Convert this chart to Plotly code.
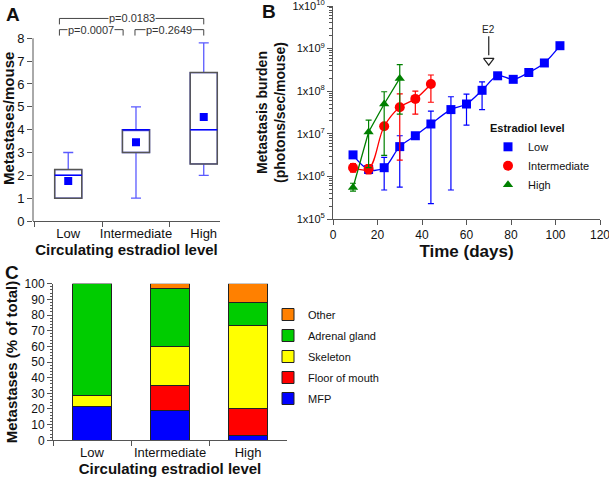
import math
import plotly.graph_objects as go

W, H = 609, 478
FONT = "Arial, Liberation Sans, sans-serif"
AXIS_GREY = "#555555"

# ---- panel A: metastases per mouse (box summary) ----
groups = ["Low", "Intermediate", "High"]
box_q1 = [1.0, 3.0, 2.5]
box_median = [2.0, 4.0, 4.0]
box_q3 = [2.25, 4.0, 6.5]
box_lower = [1.0, 1.0, 2.0]
box_upper = [3.0, 5.0, 7.8]
box_mean = [1.75, 3.45, 4.55]

# significance brackets (x in category units, y in metastases/mouse)
p_labels = ["p=0.0183", "p=0.0007", "p=0.2649"]
p_left = [-0.13, -0.13, 0.985]
p_right = [2.0, 0.81, 2.0]
p_level = [8.87, 8.38, 8.38]
p_drop = 0.26

# ---- panel B: bioluminescence over time ----
low_day = [9, 16, 23, 30, 37, 44, 53, 60, 67, 74, 81, 88, 95, 102]
low_val = [3.2e6, 1.45e6, 1.6e6, 5.0e6, 9.0e6, 1.7e7, 3.7e7, 5.0e7, 1.05e8, 2.3e8, 1.9e8, 2.75e8, 4.6e8, 1.17e9]
low_hi = [3.8e6, 1.7e6, 2.8e6, 9.0e6, 9.0e6, 3.4e7, 7.4e7, 8.5e7, 1.65e8, 2.3e8, 1.9e8, 2.75e8, 4.6e8, 1.17e9]
low_lo = [2.8e6, 1.25e6, 4.8e5, 5.6e5, 9.0e6, 2.3e5, 4.8e5, 1.6e7, 3.7e7, 2.3e8, 1.9e8, 2.75e8, 4.6e8, 1.17e9]

inter_day = [9, 16, 23, 30, 37, 44]
inter_val = [1.6e6, 1.5e6, 1.5e7, 4.2e7, 6.6e7, 1.48e8]
inter_hi = [2.0e6, 1.9e6, 1.5e7, 8.7e7, 1.0e8, 2.4e8]
inter_lo = [1.25e6, 1.15e6, 1.5e7, 2.4e6, 2.9e7, 5.5e7]

high_day = [9, 16, 23, 30]
high_val = [5.5e5, 1.1e7, 5.0e7, 2.0e8]
high_hi = [6.9e5, 2.1e7, 9.7e7, 4.2e8]
high_lo = [4.5e5, 1.6e6, 3.1e6, 2.9e7]

e2_day = 70
e2_level = 5.2e8

log_ticks = [1e5, 1e6, 1e7, 1e8, 1e9, 1e10]
log_ticktext = ["1x10<sup>5</sup>", "1x10<sup>6</sup>", "1x10<sup>7</sup>",
                "1x10<sup>8</sup>", "1x10<sup>9</sup>", "1x10<sup>10</sup>"]

# ---- panel C: site distribution (% of total) ----
sites = ["MFP", "Floor of mouth", "Skeleton", "Adrenal gland", "Other"]
site_colors = ["#0000ff", "#ff0000", "#ffff00", "#00cc00", "#ff8000"]
mfp = [21.4, 19.3, 2.9]
floor_of_mouth = [0.0, 16.0, 17.4]
skeleton = [7.1, 24.4, 53.1]
adrenal = [71.5, 37.3, 14.7]
other = [0.0, 3.0, 11.9]


def px_x(a, b):
    return [a / W, b / W]


def px_y(top, bottom):
    return [1 - bottom / H, 1 - top / H]


def errs(val, hi, lo):
    return [h - v for v, h in zip(val, hi)], [v - l for v, l in zip(val, lo)]


fig = go.Figure()

# panel A boxes (blue whiskers/median), grey box outline added as shapes
fig.add_trace(go.Box(
    x=groups, q1=box_q1, median=box_median, q3=box_q3,
    lowerfence=box_lower, upperfence=box_upper,
    width=0.4, whiskerwidth=0.37, fillcolor="white",
    line=dict(color="#5a5aff", width=1.3), boxpoints=False,
    xaxis="x", yaxis="y", showlegend=False, hoverinfo="skip",
))
fig.add_trace(go.Scatter(
    x=groups, y=box_mean, mode="markers",
    marker=dict(symbol="square", size=8, color="#0000ff"),
    xaxis="x", yaxis="y", showlegend=False,
))
for i in range(len(groups)):
    fig.add_shape(type="rect", xref="x", yref="y", x0=i - 0.2, x1=i + 0.2,
                  y0=box_q1[i], y1=box_q3[i], line=dict(color="#555555", width=1.5))
    fig.add_shape(type="line", xref="x", yref="y", x0=i - 0.2, x1=i + 0.2,
                  y0=box_median[i], y1=box_median[i], line=dict(color="#0000ff", width=1.5))
# y axis line only up to 8
fig.add_shape(type="line", xref="x domain", yref="y", x0=0, x1=0, y0=0, y1=8,
              line=dict(color=AXIS_GREY, width=1))
for lab, x0, x1, yl in zip(p_labels, p_left, p_right, p_level):
    fig.add_shape(type="path", xref="x", yref="y",
                  path=f"M {x0},{yl - p_drop} L {x0},{yl} L {x1},{yl} L {x1},{yl - p_drop}",
                  line=dict(color="#444444", width=1))
    fig.add_annotation(x=(x0 + x1) / 2, y=yl, xref="x", yref="y", text=lab, showarrow=False,
                       xanchor="center", yanchor="middle",
                       bgcolor="white", borderpad=0, font=dict(size=11, color="#333333"))

# panel B series: line traces, then marker+error traces carrying the legend
series_b = [
    ("Low", low_day, low_val, low_hi, low_lo, "#0000ff", "square", 9, "spline"),
    ("Intermediate", inter_day, inter_val, inter_hi, inter_lo, "#ff0000", "circle", 10, "spline"),
    ("High", high_day, high_val, high_hi, high_lo, "#008000", "triangle-up", 9, "linear"),
]
for name, d, v, hi, lo, col, sym, sz, shape in series_b:
    fig.add_trace(go.Scatter(
        x=d, y=v, mode="lines", line=dict(color=col, width=1.3, shape=shape),
        xaxis="x2", yaxis="y2", showlegend=False, hoverinfo="skip",
    ))
for name, d, v, hi, lo, col, sym, sz, shape in series_b:
    up, down = errs(v, hi, lo)
    fig.add_trace(go.Scatter(
        x=d, y=v, name=name, mode="markers",
        marker=dict(symbol=sym, size=sz, color=col),
        error_y=dict(type="data", symmetric=False, array=up, arrayminus=down,
                     color=col, thickness=1.2, width=3),
        xaxis="x2", yaxis="y2", legend="legend",
    ))
fig.add_trace(go.Scatter(
    x=[e2_day], y=[e2_level], mode="markers", showlegend=False,
    marker=dict(symbol="triangle-down-open", size=9, color="#222222", line=dict(width=1.2)),
    xaxis="x2", yaxis="y2",
))
fig.add_annotation(x=e2_day, y=math.log10(e2_level * 1.35), xref="x2", yref="y2",
                   text="E2", showarrow=True, arrowhead=0, arrowwidth=1.2, arrowcolor="#222222",
                   ax=0, ay=-26, font=dict(size=10, color="#222222"))

# panel C stacked bars; legend lists Other at top, MFP at bottom
for k, (name, vals, col) in enumerate(zip(sites, [mfp, floor_of_mouth, skeleton, adrenal, other], site_colors)):
    fig.add_trace(go.Bar(
        x=groups, y=vals, name=name, width=0.5, legendgroup=name,
        legendrank=1000 - k,
        marker=dict(color=col, line=dict(color="#222222", width=1)),
        xaxis="x3", yaxis="y3", legend="legend2",
    ))

axis_common = dict(showgrid=False, zeroline=False, linecolor=AXIS_GREY, linewidth=1,
                   ticks="outside", tickcolor=AXIS_GREY, ticklen=5, automargin=False,
                   tickfont=dict(family=FONT, size=13, color="#111111"))
title_font = dict(family=FONT, size=15, color="#111111", weight="bold")

fig.update_layout(
    width=W, height=H, margin=dict(l=0, r=0, t=0, b=0, autoexpand=False),
    paper_bgcolor="white", plot_bgcolor="white", barmode="stack",
    font=dict(family=FONT, color="#111111"),
    xaxis=dict(axis_common, domain=px_x(33, 220), anchor="y", type="category",
               range=[-0.52, 2.24], tickson="boundaries", showline=True, tickangle=0,
               title=dict(text="Circulating estradiol level", font=title_font, standoff=4)),
    yaxis=dict(axis_common, domain=px_y(15.7, 221), anchor="x", range=[0, 8.99],
               tick0=0, dtick=1, showline=False,
               title=dict(text="Metastases/mouse", font=title_font, standoff=2)),
    xaxis2=dict(axis_common, domain=px_x(333, 600), anchor="y2", range=[0, 120], dtick=20,
                showline=True, tickfont=dict(family=FONT, size=12, color="#111111"),
                ticklabeloverflow="allow",
                title=dict(text="Time (days)", font=dict(title_font, size=17), standoff=2)),
    yaxis2=dict(axis_common, domain=px_y(6, 219), anchor="x2", type="log", range=[5, 10],
                tickmode="array", tickvals=log_ticks, ticktext=log_ticktext, showline=True,
                tickfont=dict(family=FONT, size=11, color="#111111"),
                ticklabeloverflow="allow",
                minor=dict(ticks="outside", ticklen=3, tickcolor=AXIS_GREY, dtick="D1"),
                title=dict(text="Metastasis burden<br>(photons/sec/mouse)",
                           font=dict(title_font, size=14), standoff=3)),
    xaxis3=dict(axis_common, domain=px_x(53, 287), anchor="y3", type="category",
                range=[-0.5, 2.5], tickson="boundaries", showline=True, tickangle=0,
                title=dict(text="Circulating estradiol level", font=title_font, standoff=4)),
    yaxis3=dict(axis_common, domain=px_y(283.7, 440.3), anchor="x3", range=[0, 100], dtick=10,
                showline=True, tickfont=dict(family=FONT, size=12, color="#111111"),
                minor=dict(ticks="outside", ticklen=2, tickcolor=AXIS_GREY, dtick=2),
                title=dict(text="Metastases (% of total)", font=title_font, standoff=3)),
    legend=dict(x=488 / W, y=1 - 118 / H, xanchor="left", yanchor="top",
                title=dict(text="Estradiol level", font=dict(family=FONT, size=11, weight="bold")),
                font=dict(family=FONT, size=11), bgcolor="rgba(0,0,0,0)", itemwidth=30),
    legend2=dict(x=268 / W, y=1 - 300 / H, xanchor="left", yanchor="top",
                 traceorder="grouped",
                 font=dict(family=FONT, size=11), bgcolor="rgba(0,0,0,0)", itemwidth=30,
                 tracegroupgap=2),
)

for label, lx, ly in [("A", 13, 14), ("B", 269, 12), ("C", 12, 272)]:
    fig.add_annotation(x=lx / W, y=1 - ly / H, xref="paper", yref="paper", text=label,
                       xanchor="center", yanchor="middle", showarrow=False,
                       font=dict(family=FONT, size=19, weight="bold"))

# drop the default body margin so the figure sits at the window's corner
fig.write_html("out.html", config={"displayModeBar": False},
               post_script="document.body.style.margin='0';")
